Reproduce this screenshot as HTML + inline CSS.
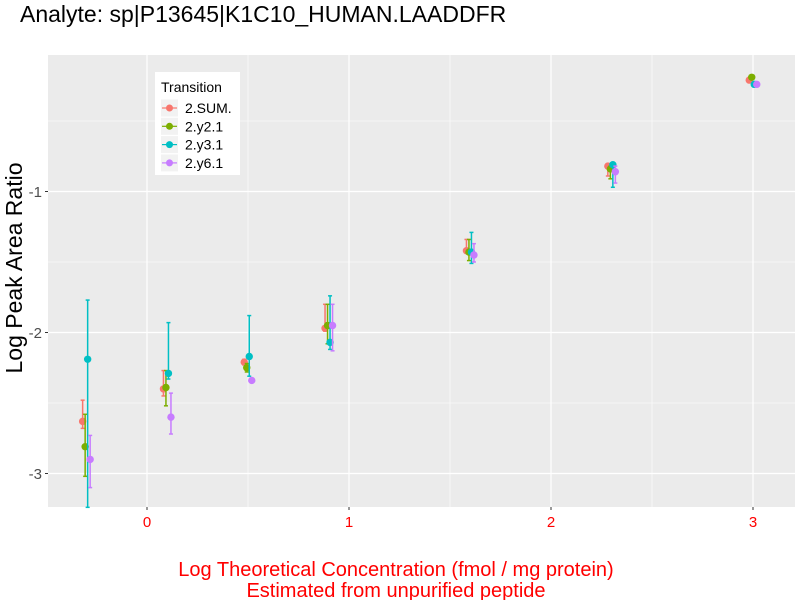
<!DOCTYPE html>
<html><head><meta charset="utf-8"><style>
body{margin:0;background:#fff;}
svg{font-family:"Liberation Sans",sans-serif;}
</style></head><body>
<svg width="800" height="600">
<text x="20" y="22" font-size="23" fill="#000">Analyte: sp|P13645|K1C10_HUMAN.LAADDFR</text>
<rect x="48" y="55" width="747" height="452" fill="#EBEBEB"/>
<g id="grid"></g>
<g id="marks"></g>
<g id="axes"></g>
<text transform="translate(22,268) rotate(-90)" text-anchor="middle" font-size="23">Log Peak Area Ratio</text>
<text x="396" y="576" text-anchor="middle" font-size="20" fill="#FF0000">Log Theoretical Concentration (fmol / mg protein)</text>
<text x="396" y="597" text-anchor="middle" font-size="20" fill="#FF0000">Estimated from unpurified peptide</text>
<g>
<rect x="155" y="72" width="85" height="103" fill="#fff"/>
<text x="161" y="92" font-size="14">Transition</text>
<g id="legend-items"></g>
</g>
</svg>
<script>
const series = ['2.SUM.','2.y2.1','2.y3.1','2.y6.1'];
const colors = ['#F8766D','#7CAE00','#00BFC4','#C77CFF'];
const concentrations = [-0.3,0.1,0.5,0.9,1.6,2.3,3.0];
const valSum = [-2.63,-2.40,-2.21,-1.97,-1.42,-0.82,-0.21];
const lowSum = [-2.68,-2.45,-2.23,-1.99,-1.43,-0.89,-0.22];
const highSum = [-2.48,-2.27,-2.19,-1.80,-1.34,-0.81,-0.20];
const valY2 = [-2.81,-2.39,-2.25,-1.95,-1.43,-0.84,-0.19];
const lowY2 = [-3.02,-2.52,-2.28,-2.08,-1.49,-0.91,-0.20];
const highY2 = [-2.58,-2.27,-2.22,-1.80,-1.34,-0.82,-0.18];
const valY3 = [-2.19,-2.29,-2.17,-2.07,-1.43,-0.81,-0.24];
const lowY3 = [-3.24,-2.33,-2.31,-2.12,-1.51,-0.97,-0.25];
const highY3 = [-1.77,-1.93,-1.88,-1.74,-1.29,-0.80,-0.23];
const valY6 = [-2.90,-2.60,-2.34,-1.95,-1.45,-0.86,-0.24];
const lowY6 = [-3.10,-2.72,-2.35,-2.13,-1.50,-0.94,-0.25];
const highY6 = [-2.73,-2.43,-2.33,-1.80,-1.37,-0.82,-0.23];
const xTicks = [0,1,2,3];
const yTicks = [-1,-2,-3];
const xMinor = [0.5,1.5,2.5];
const yMinor = [-0.5,-1.5,-2.5];
const NS='http://www.w3.org/2000/svg';
const X = v => 147 + v*202;
const Y = v => 332.5 - (v+2)*141;
function mk(tag, attrs, parent){const e=document.createElementNS(NS,tag);for(const k in attrs)e.setAttribute(k,attrs[k]);parent.appendChild(e);return e;}
const grid=document.getElementById('grid'), marks=document.getElementById('marks'), axes=document.getElementById('axes');
xMinor.forEach(v=>{const l=mk('line',{x1:X(v),x2:X(v),y1:55,y2:507,stroke:'#fff','stroke-width':0.6},grid);

});
yMinor.forEach(v=>{const l=mk('line',{x1:48,x2:795,y1:Y(v),y2:Y(v),stroke:'#fff','stroke-width':0.6},grid);

});
xTicks.forEach(v=>{const l=mk('line',{x1:X(v),x2:X(v),y1:55,y2:507,stroke:'#fff','stroke-width':1.2},grid);


mk('line',{x1:X(v),x2:X(v),y1:507,y2:510,stroke:'#333'},axes);
const t=mk('text',{x:X(v),y:527,'text-anchor':'middle','font-size':15,fill:'#FF0000'},axes);t.textContent=v;

});
yTicks.forEach(v=>{const l=mk('line',{x1:48,x2:795,y1:Y(v),y2:Y(v),stroke:'#fff','stroke-width':1.2},grid);


mk('line',{x1:45,x2:48,y1:Y(v),y2:Y(v),stroke:'#333'},axes);
const t=mk('text',{x:42,y:Y(v)+5.5,'text-anchor':'end','font-size':15,fill:'#4D4D4D'},axes);t.textContent=v;

});
const vals=[valSum,valY2,valY3,valY6], lows=[lowSum,lowY2,lowY3,lowY6], highs=[highSum,highY2,highY3,highY6];
const offs=[-0.0186,-0.0062,0.0062,0.0186];
series.forEach((s,si)=>{
 const g=mk('g',{},marks);
 
 
 concentrations.forEach((c,i)=>{
  const x=X(c+offs[si]), c0=colors[si];
  mk('line',{x1:x,x2:x,y1:Y(lows[si][i]),y2:Y(highs[si][i]),stroke:c0,'stroke-width':1.5},g);
  mk('line',{x1:x-2,x2:x+2,y1:Y(lows[si][i]),y2:Y(lows[si][i]),stroke:c0,'stroke-width':1.5},g);
  mk('line',{x1:x-2,x2:x+2,y1:Y(highs[si][i]),y2:Y(highs[si][i]),stroke:c0,'stroke-width':1.5},g);
  const p=mk('circle',{cx:x,cy:Y(vals[si][i]),r:3.7,fill:c0},g);
  
  
 });
 const lg=document.getElementById('legend-items');
 const y=108+si*18.3;
 const it=mk('g',{},lg);
 
 
 mk('rect',{x:161,y:y-8.5,width:17,height:17,fill:'#F2F2F2'},it);
 mk('line',{x1:162,x2:177,y1:y,y2:y,stroke:colors[si],'stroke-width':1.2},it);
 mk('circle',{cx:169.5,cy:y,r:3.5,fill:colors[si]},it);
 const t=mk('text',{x:185,y:y+5,'font-size':14},it);t.textContent=s;
});
</script>
</body></html>
